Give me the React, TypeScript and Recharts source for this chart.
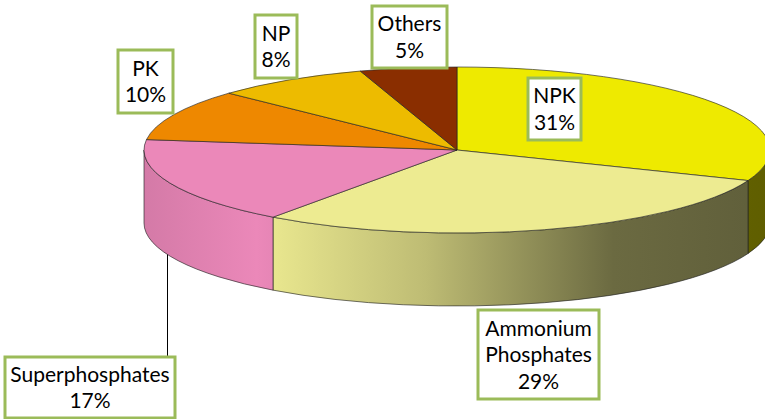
import { PieChart, Pie, Cell } from 'recharts'

// fertilizer consumption shares (%)
const categories = ['NPK', 'Ammonium Phosphates', 'Superphosphates', 'PK', 'NP', 'Others']
const shares = [31, 29, 17, 10, 8, 5]

const data = categories.map((name, i) => ({ name, value: shares[i] }))

const COLORS = ['#EEEA00', '#EDEB91', '#EB88B9', '#EE8800', '#EDBB00', '#8A2E00']

// layout of the tilted pie
const CX = 457
const CY = 150
const RX = 313
const RY = 83
const DEPTH = 73
const RAD = Math.PI / 180

// label boxes [x0, y0, x1, y1], same order as categories
const BOXES = [
  [528, 78, 581, 140],
  [478, 310, 599, 399],
  [5, 357, 175, 418],
  [118, 50, 173, 113],
  [255, 15, 297, 78],
  [372, 6, 447, 68],
]

const FONT = 'Lato, "Open Sans", sans-serif'

function shade(hex: string, f: number) {
  const n = parseInt(hex.slice(1), 16)
  const r = Math.min(255, Math.round(((n >> 16) & 255) * f))
  const g = Math.min(255, Math.round(((n >> 8) & 255) * f))
  const b = Math.min(255, Math.round((n & 255) * f))
  return `rgb(${r},${g},${b})`
}

// lighting across the side wall, left to right
const WALL_STOPS: [number, number][] = [
  [0, 0.9],
  [0.18, 1.0],
  [0.45, 0.8],
  [0.75, 0.45],
  [1, 0.4],
]

function Slice3D(props: any) {
  const { cx, cy, outerRadius, startAngle, endAngle, fill } = props
  const name = props.payload?.name ?? props.name
  const i = categories.indexOf(name)
  const rx = outerRadius
  const ry = outerRadius * (RY / RX)
  const depth = outerRadius * (DEPTH / RX)
  const pt = (a: number, dy = 0) =>
    `${cx + rx * Math.cos(a * RAD)},${cy - ry * Math.sin(a * RAD) + dy}`
  const hi = Math.max(startAngle, endAngle)
  const lo = Math.min(startAngle, endAngle)
  const large = hi - lo > 180 ? 1 : 0
  const top = `M${cx},${cy} L${pt(hi)} A${rx},${ry} 0 ${large} 1 ${pt(lo)} Z`

  // front wall only where the rim faces the viewer
  const wHi = Math.min(hi, 0)
  const wLo = Math.max(lo, -180)
  let wall = ''
  if (wHi > wLo) {
    wall =
      `M${pt(wHi)} A${rx},${ry} 0 0 1 ${pt(wLo)} ` +
      `L${pt(wLo, depth)} A${rx},${ry} 0 0 0 ${pt(wHi, depth)} Z`
  }

  return (
    <g>
      {wall && (
        <path d={wall} fill={`url(#wall-${i})`} stroke="#222" strokeOpacity={0.8} strokeWidth={0.8} />
      )}
      <path d={top} fill={fill} stroke="#222" strokeOpacity={0.8} strokeWidth={0.8} />
    </g>
  )
}

function BoxLabel(props: any) {
  const name = props.payload?.name ?? props.name
  const i = categories.indexOf(name)
  const [x0, y0, x1, y1] = BOXES[i]
  const lines = [...name.split(' '), `${Math.round(props.percent * 100)}%`]
  const mx = (x0 + x1) / 2
  const my = (y0 + y1) / 2
  const step = 26.5

  // Superphosphates has a leader line down from the rim
  let leader = null
  if (name === 'Superphosphates') {
    const lx = x1 - 7.5
    const t = (lx - CX) / RX
    const rimY = CY + RY * Math.sqrt(1 - t * t) + DEPTH
    leader = <line x1={lx} y1={rimY} x2={lx} y2={y0} stroke="#000" strokeWidth={1} />
  }

  return (
    <g>
      {leader}
      <rect x={x0} y={y0} width={x1 - x0} height={y1 - y0} fill="#fff" stroke="#9BBB59" strokeWidth={3} />
      {lines.map((s, k) => (
        <text
          key={k}
          x={mx}
          y={my + (k - (lines.length - 1) / 2) * step + 7.5}
          textAnchor="middle"
          fontFamily={FONT}
          fontSize={21}
          fill="#000"
        >
          {s}
        </text>
      ))}
    </g>
  )
}

export default function App() {
  const pieProps: any = {
    shape: Slice3D,
    activeShape: Slice3D,
    inactiveShape: Slice3D,
  }
  return (
    <div style={{ position: 'absolute', left: 0, top: 0, width: 765, height: 419, background: '#fff' }}>
      <PieChart width={765} height={419} margin={{ top: 0, right: 0, bottom: 0, left: 0 }}>
        <defs>
          {COLORS.map((c, i) => (
            <linearGradient
              key={i}
              id={`wall-${i}`}
              gradientUnits="userSpaceOnUse"
              x1={CX - RX}
              y1={0}
              x2={CX + RX}
              y2={0}
            >
              {WALL_STOPS.map(([o, f]) => (
                <stop key={o} offset={o} stopColor={shade(c, f)} />
              ))}
            </linearGradient>
          ))}
        </defs>
        <Pie
          data={data}
          dataKey="value"
          nameKey="name"
          cx={CX}
          cy={CY}
          innerRadius={0}
          outerRadius={RX}
          startAngle={90}
          endAngle={-270}
          stroke="none"
          isAnimationActive={false}
          label={BoxLabel}
          labelLine={false}
          {...pieProps}
        >
          {data.map((d, i) => (
            <Cell key={d.name} fill={COLORS[i]} />
          ))}
        </Pie>
      </PieChart>
    </div>
  )
}
